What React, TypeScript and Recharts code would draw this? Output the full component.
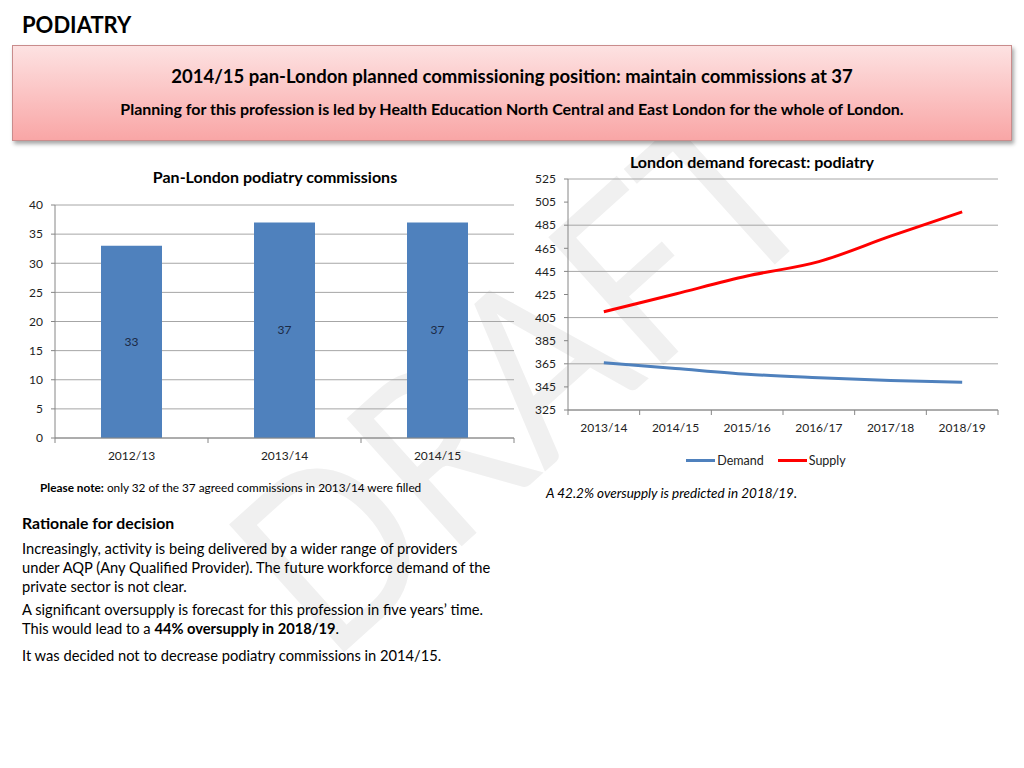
import {
  BarChart, Bar, LabelList,
  LineChart, Line,
  XAxis, YAxis, CartesianGrid, Legend,
} from 'recharts';

const barYears = ['2012/13', '2013/14', '2014/15'];
const commissions = [33, 37, 37];
const barTicks = [0, 5, 10, 15, 20, 25, 30, 35, 40];

const forecastYears = ['2013/14', '2014/15', '2015/16', '2016/17', '2017/18', '2018/19'];
const demand = [366, 361, 356, 353, 350.5, 349];
const supply = [410, 425.5, 441, 453.5, 475.5, 496.5];
const forecastTicks = [325, 345, 365, 385, 405, 425, 445, 465, 485, 505, 525];

const barData = barYears.map((year, i) => ({ year, value: commissions[i] }));
const forecastData = forecastYears.map((year, i) => ({ year, Demand: demand[i], Supply: supply[i] }));

const FONT = 'Lato, "Open Sans", sans-serif';
const axisGrey = '#868686';
const gridGrey = '#a6a6a6';
const tickStyle = { fontSize: 12, fill: '#222', fontFamily: FONT };

// Excel-style category ticks: marks sit between categories, not under them
function BetweenTick(props: any) {
  const { x, y, payload, index, band, count } = props;
  return (
    <g>
      <line x1={x - band / 2} y1={y - 8} x2={x - band / 2} y2={y - 3} stroke={axisGrey} />
      {index === count - 1 && (
        <line x1={x + band / 2} y1={y - 8} x2={x + band / 2} y2={y - 3} stroke={axisGrey} />
      )}
      <text x={x} y={y + 14} textAnchor="middle" style={tickStyle}>{payload.value}</text>
    </g>
  );
}

function ForecastLegend() {
  const items = [
    { name: 'Demand', color: '#4f81bd' },
    { name: 'Supply', color: '#ff0000' },
  ];
  return (
    <div style={{ display: 'flex', justifyContent: 'center', gap: 14, height: 20, alignItems: 'center', fontFamily: FONT, fontSize: 12.5, color: '#222', paddingLeft: 6 }}>
      {items.map(it => (
        <div key={it.name} style={{ display: 'flex', alignItems: 'center' }}>
          <span style={{ display: 'inline-block', width: 29, height: 3, background: it.color, marginRight: 2 }} />
          {it.name}
        </div>
      ))}
    </div>
  );
}

export default function App() {
  const barW = 530, barPlotW = 530 - 55 - 16;
  const lineW = 500, linePlotW = 998 - 568;

  return (
    <div style={{ position: 'absolute', left: 0, top: 0, width: 1024, height: 768, background: '#fff', overflow: 'hidden', fontFamily: FONT, color: '#000' }}>
      {/* watermark */}
      <svg width={1024} height={768} style={{ position: 'absolute', left: 0, top: 0 }}>
        <text
          x={330} y={665}
          transform="rotate(-42 330 665)"
          fontFamily={FONT} fontSize={240}
          textLength={670} lengthAdjust="spacingAndGlyphs"
          fill="#f0f0f0"
        >DRAFT</text>
      </svg>

      <div style={{ position: 'absolute', left: 22, top: 11, fontSize: 22, fontWeight: 700 }}>PODIATRY</div>

      <div style={{
        position: 'absolute', left: 12, top: 45, width: 998, height: 94,
        background: 'linear-gradient(#fde2e2, #f9a6a6)', border: '1px solid #c98c8c',
        boxShadow: '2px 3px 4px rgba(0,0,0,0.35)', textAlign: 'center',
      }}>
        <div style={{ marginTop: 19, fontSize: 18.5, fontWeight: 700 }}>
          2014/15 pan-London planned commissioning position: maintain commissions at 37
        </div>
        <div style={{ marginTop: 12, fontSize: 16, fontWeight: 700 }}>
          Planning for this profession is led by Health Education North Central and East London for the whole of London.
        </div>
      </div>

      {/* bar chart */}
      <div style={{ position: 'absolute', left: 100, top: 167, width: 350, textAlign: 'center', fontSize: 16, fontWeight: 700 }}>
        Pan-London podiatry commissions
      </div>
      <div style={{ position: 'absolute', left: 0, top: 190 }}>
        <BarChart width={barW} height={280} data={barData} margin={{ top: 15, right: 16, bottom: 2, left: 15 }}>
          <CartesianGrid vertical={false} stroke={gridGrey} />
          <XAxis
            dataKey="year" height={30} axisLine={{ stroke: axisGrey }} tickLine={false}
            tick={<BetweenTick band={barPlotW / barYears.length} count={barYears.length} />}
          />
          <YAxis
            domain={[0, 40]} ticks={barTicks} width={40} tickSize={4} tickMargin={8}
            axisLine={{ stroke: axisGrey }} tickLine={{ stroke: axisGrey }} tick={tickStyle}
          />
          <Bar dataKey="value" fill="#4f81bd" barSize={61} isAnimationActive={false}>
            <LabelList dataKey="value" position="center" style={{ fontSize: 12, fill: '#1b2a44', fontFamily: FONT }} />
          </Bar>
        </BarChart>
      </div>

      <div style={{ position: 'absolute', left: 40, top: 480, fontSize: 11.8 }}>
        <b>Please note:</b> only 32 of the 37 agreed commissions in 2013/14 were filled
      </div>

      {/* line chart */}
      <div style={{ position: 'absolute', left: 562, top: 152, width: 380, textAlign: 'center', fontSize: 16, fontWeight: 700 }}>
        London demand forecast: podiatry
      </div>
      <div style={{ position: 'absolute', left: 520, top: 150 }}>
        <LineChart width={lineW} height={330} data={forecastData} margin={{ top: 29, right: 22, bottom: 10, left: 8 }}>
          <CartesianGrid vertical={false} stroke={gridGrey} />
          <XAxis
            dataKey="year" scale="band" height={40} axisLine={{ stroke: axisGrey }} tickLine={false}
            tick={<BetweenTick band={linePlotW / forecastYears.length} count={forecastYears.length} />}
          />
          <YAxis
            domain={[325, 525]} ticks={forecastTicks} width={40} tickSize={4} tickMargin={8}
            axisLine={{ stroke: axisGrey }} tickLine={{ stroke: axisGrey }} tick={tickStyle}
          />
          <Legend verticalAlign="bottom" content={<ForecastLegend />} />
          <Line type="monotone" dataKey="Demand" stroke="#4f81bd" strokeWidth={3} dot={false} isAnimationActive={false} />
          <Line type="monotone" dataKey="Supply" stroke="#ff0000" strokeWidth={3} dot={false} isAnimationActive={false} />
        </LineChart>
      </div>

      <div style={{ position: 'absolute', left: 546, top: 485, fontSize: 13.5, fontStyle: 'italic' }}>
        A 42.2% oversupply is predicted in 2018/19.
      </div>

      {/* rationale */}
      <div style={{ position: 'absolute', left: 22, top: 513, fontSize: 14.7, lineHeight: '19px' }}>
        <div style={{ fontWeight: 700, fontSize: 15.8, marginBottom: 7 }}>Rationale for decision</div>
        <div style={{ marginBottom: 4 }}>
          Increasingly, activity is being delivered by a wider range of providers<br />
          under AQP (Any Qualified Provider). The future workforce demand of the<br />
          private sector is not clear.
        </div>
        <div style={{ marginBottom: 8 }}>
          A significant oversupply is forecast for this profession in five years’ time.<br />
          This would lead to a <b>44% oversupply in 2018/19</b>.
        </div>
        <div>It was decided not to decrease podiatry commissions in 2014/15.</div>
      </div>
    </div>
  );
}
